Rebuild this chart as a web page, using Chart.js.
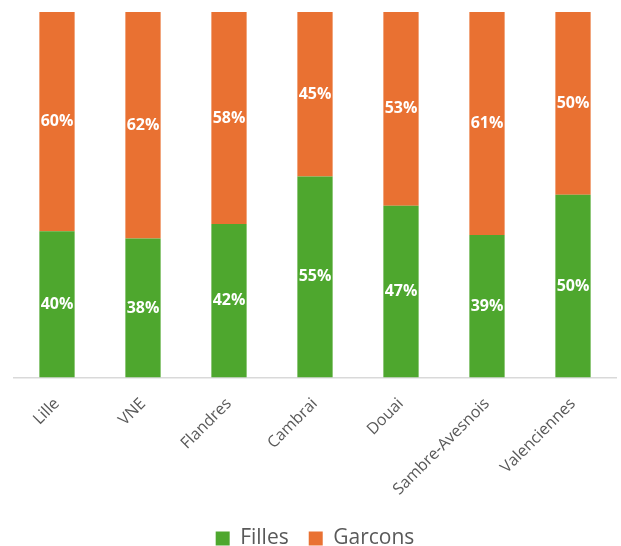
<!DOCTYPE html>
<html>
<head>
<meta charset="utf-8">
<script src="https://cdn.jsdelivr.net/npm/chart.js@4"></script>
<style>
  html, body { margin: 0; padding: 0; background: #fff; }
  #wrap { width: 621px; height: 546px; }
</style>
</head>
<body>
<div id="wrap"><canvas id="chart" width="621" height="546"></canvas></div>
<script>
const categories = ["Lille", "VNE", "Flandres", "Cambrai", "Douai", "Sambre-Avesnois", "Valenciennes"];
const filles = [40, 38, 42, 55, 47, 39, 50];
const garcons = [60, 62, 58, 45, 53, 61, 50];

// white percentage labels centred in each segment
const segmentLabels = {
    id: "segmentLabels",
    afterDatasetsDraw(chart) {
        const ctx = chart.ctx;
        ctx.save();
        ctx.fillStyle = "#ffffff";
        ctx.font = "bold 16px 'Open Sans'";
        ctx.textAlign = "center";
        ctx.textBaseline = "middle";
        chart.data.datasets.forEach((ds, i) => {
            chart.getDatasetMeta(i).data.forEach((bar, j) => {
                const y = (bar.y + bar.base) / 2;
                ctx.fillText(ds.data[j] + "%", bar.x, y);
            });
        });
        ctx.restore();
    }
};

new Chart(document.getElementById("chart").getContext("2d"), {
    type: "bar",
    data: {
        labels: categories,
        datasets: [
            { label: "Filles", data: filles, backgroundColor: "#4ea72e" },
            { label: "Garcons", data: garcons, backgroundColor: "#e97132" }
        ]
    },
    options: {
        responsive: false,
        animation: false,
        layout: { padding: { left: 14, right: 5, top: 12, bottom: -13 } },
        datasets: { bar: { categoryPercentage: 1, barPercentage: 0.41 } },
        scales: {
            x: {
                stacked: true,
                grid: { display: false },
                border: { color: "#d9d9d9", width: 1.5 },
                ticks: {
                    color: "#595959",
                    font: { family: "'Open Sans'", size: 16 },
                    minRotation: 45,
                    maxRotation: 45,
                    padding: 9
                }
            },
            y: {
                stacked: true,
                display: false,
                min: 0,
                max: 100
            }
        },
        plugins: {
            legend: {
                position: "bottom",
                labels: {
                    color: "#595959",
                    font: { family: "'Open Sans'", size: 21 },
                    boxWidth: 14,
                    boxHeight: 14,
                    padding: 20
                }
            },
            tooltip: { enabled: false }
        }
    },
    plugins: [segmentLabels]
});
</script>
</body>
</html>
